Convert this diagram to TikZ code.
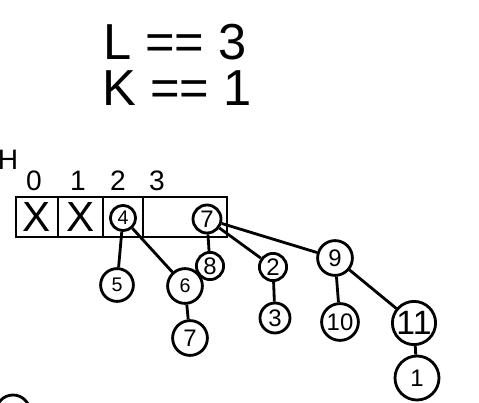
\documentclass[tikz,border=0pt]{standalone}
\usepackage{fontspec}
\setmainfont{Liberation Sans}
\begin{document}
\begin{tikzpicture}[x=0.25mm, y=-0.25mm, line width=2pt,
		knot/.style={circle, draw, inner sep=0pt, font=\fontsize{17}{19}\selectfont},
		small/.style={font=\fontsize{14}{16}\selectfont},
		cell/.style={draw, minimum height=10mm, inner sep=0pt}]
			\useasboundingbox (0,0) rectangle (479,403);
			\clip (0,0) rectangle (479,403);
			% conditions
			\node (cl) at (175,42) {\fontsize{36}{40}\selectfont L == 3};
			\node (ck) at (177,88) {\fontsize{36}{40}\selectfont K == 1};
			% array H
			\node (h) at (8,160) {\fontsize{20}{22}\selectfont H};
			\node[cell, minimum width=10.5mm] (c0) at (37,217) {\fontsize{30}{30}\selectfont X};
			\node[cell, minimum width=11.25mm] (c1) at (80.5,217) {\fontsize{30}{30}\selectfont X};
			\node[cell, minimum width=10mm] (c2) at (123,217) {};
			\node[cell, minimum width=21mm] (c3) at (185,217) {};
			\foreach \i/\x in {0/34, 1/78, 2/118, 3/157}
				\node (i\i) at (\x,181) {\fontsize{20}{22}\selectfont \i};
			% trees
			\node[knot, small, minimum size=6.3mm] (n4) at (123,218) {4};
			\node[knot, small, minimum size=8.2mm] (n5) at (117,285) {5};
			\node[knot, small, minimum size=8.7mm] (n6) at (185,286) {6};
			\node[knot, minimum size=8.7mm] (n7b) at (190,338) {7};
			\node[knot, minimum size=7mm] (n7) at (207,219) {7};
			\node[knot, minimum size=6.8mm] (n8) at (210,266) {8};
			\node[knot, minimum size=6.8mm] (n2) at (273,267) {2};
			\node[knot, minimum size=7.5mm] (n3) at (275,318) {3};
			\node[knot, minimum size=8.7mm] (n9) at (335,258) {9};
			\node[knot, minimum size=9.2mm] (n10) at (340,322) {10};
			\node[knot, minimum size=10.8mm, font=\fontsize{24}{26}\selectfont] (n11) at (414,323) {11};
			\node[knot, minimum size=11mm] (n1) at (417,378) {1};
			\node[knot, minimum size=8.5mm] (nx) at (13,412) {};
			\draw (n4) -- (n5);
			\draw (n4) -- (n6);
			\draw (n6) -- (n7b);
			\draw (n7) -- (n8);
			\draw (n7) -- (n2);
			\draw (n7) -- (n9);
			\draw (n2) -- (n3);
			\draw (n9) -- (n10);
			\draw (n9) -- (n11);
			\draw (n11) -- (n1);
		\end{tikzpicture}
\end{document}
